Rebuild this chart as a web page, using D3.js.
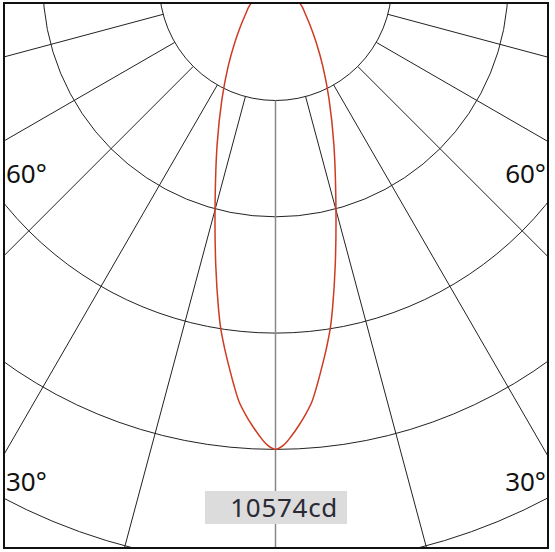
<!DOCTYPE html>
<html>
<head>
<meta charset="utf-8">
<script src="https://cdn.jsdelivr.net/npm/d3@7"></script>
<style>
  body { margin: 0; background: #fff; }
  text { font-family: "Noto Sans", sans-serif; }
</style>
</head>
<body>
<script>
// intensity per angle from nadir (cd), same on both sides
const angles = [0, 1, 2, 3, 4, 5, 6, 7, 8, 9, 10, 12, 15, 20, 25, 30, 35, 40, 45, 50, 55, 60, 65, 70, 75, 80, 85, 90]
const intensity = [10574, 10480, 10280, 10050, 9800, 9520, 9130, 8730, 8340, 7940, 7470, 6530, 5310, 3880, 2880, 2150, 1610, 1230, 960, 790, 560, 360, 210, 110, 50, 20, 5, 0]
const ringLevels = [2643.5, 5287, 7930.5, 10574, 13217.5]
const spokeAngles = [-90, -75, -60, -45, -30, -15, 15, 30, 45, 60, 75, 90]
const angleLabels = [60, 30]
const maxLabel = '10574cd'

const W = 555, H = 552
const frame = { x: 4, y: 3, w: 544, h: 545 }
const cx = 275.5, cy = -15.8
let svg, plot, r

function rad(deg) { return deg * Math.PI / 180 }

function createSVG() {
  svg = d3.select('body').append('svg').attr('width', W).attr('height', H)
  svg.append('clipPath').attr('id', 'clip')
    .append('rect')
    .attr('x', frame.x).attr('y', frame.y)
    .attr('width', frame.w).attr('height', frame.h)
  plot = svg.append('g').attr('clip-path', 'url(#clip)')
    .append('g').attr('transform', `translate(${cx},${cy})`)
  r = d3.scaleLinear().domain([0, 10574]).range([0, 465.2])
}

function createRings() {
  plot.selectAll('circle.ring').data(ringLevels).enter().append('circle')
    .attr('class', 'ring')
    .attr('r', d => r(d))
    .attr('fill', 'none')
    .attr('stroke', '#222')
    .attr('stroke-width', 1)
}

function createSpokes() {
  plot.selectAll('line.spoke').data(spokeAngles).enter().append('line')
    .attr('class', 'spoke')
    .each(function (d) {
      const a = Math.PI + rad(d)
      const p1 = d3.pointRadial(a, r(ringLevels[0]))
      const p2 = d3.pointRadial(a, 1200)
      d3.select(this).attr('x1', p1[0]).attr('y1', p1[1]).attr('x2', p2[0]).attr('y2', p2[1])
    })
    .attr('stroke', '#222')
    .attr('stroke-width', 1)

  plot.append('line')
    .attr('x1', 0).attr('y1', r(ringLevels[0]))
    .attr('x2', 0).attr('y2', H + 40)
    .attr('stroke', '#888')
    .attr('stroke-width', 1.5)
}

function createCurve() {
  const pts = []
  for (let i = angles.length - 1; i >= 0; i--) pts.push({ a: Math.PI + rad(angles[i]), v: intensity[i] })
  for (let i = 1; i < angles.length; i++) pts.push({ a: Math.PI - rad(angles[i]), v: intensity[i] })

  const line = d3.lineRadial()
    .angle(d => d.a)
    .radius(d => r(d.v))
    .curve(d3.curveCatmullRom)

  plot.append('path')
    .attr('d', line(pts))
    .attr('fill', 'none')
    .attr('stroke', '#cf3b22')
    .attr('stroke-width', 1.5)
}

function createLabels() {
  // little nudge below where each spoke meets the frame edge
  const nudge = { 60: 42, 30: 36.5 }
  angleLabels.forEach(a => {
    const y = cy + (cx - frame.x) / Math.tan(rad(a)) + nudge[a]
    svg.append('text').attr('x', 6).attr('y', y)
      .attr('font-size', 26).attr('fill', '#111').text(a + '°')
    svg.append('text').attr('x', 546).attr('y', y)
      .attr('text-anchor', 'end')
      .attr('font-size', 26).attr('fill', '#111').text(a + '°')
  })

  svg.append('rect')
    .attr('x', 205).attr('y', 491)
    .attr('width', 142).attr('height', 33)
    .attr('fill', '#dcdcdc')
  svg.append('text')
    .attr('x', 338).attr('y', 516.5)
    .attr('text-anchor', 'end')
    .attr('font-size', 26)
    .attr('letter-spacing', 0.7)
    .attr('fill', '#2a2a35')
    .text(maxLabel)
}

function createFrame() {
  svg.append('rect')
    .attr('x', frame.x).attr('y', frame.y)
    .attr('width', frame.w).attr('height', frame.h)
    .attr('fill', 'none')
    .attr('stroke', '#111')
    .attr('stroke-width', 2)
}

createSVG()
createRings()
createSpokes()
createCurve()
createLabels()
createFrame()
</script>
</body>
</html>
